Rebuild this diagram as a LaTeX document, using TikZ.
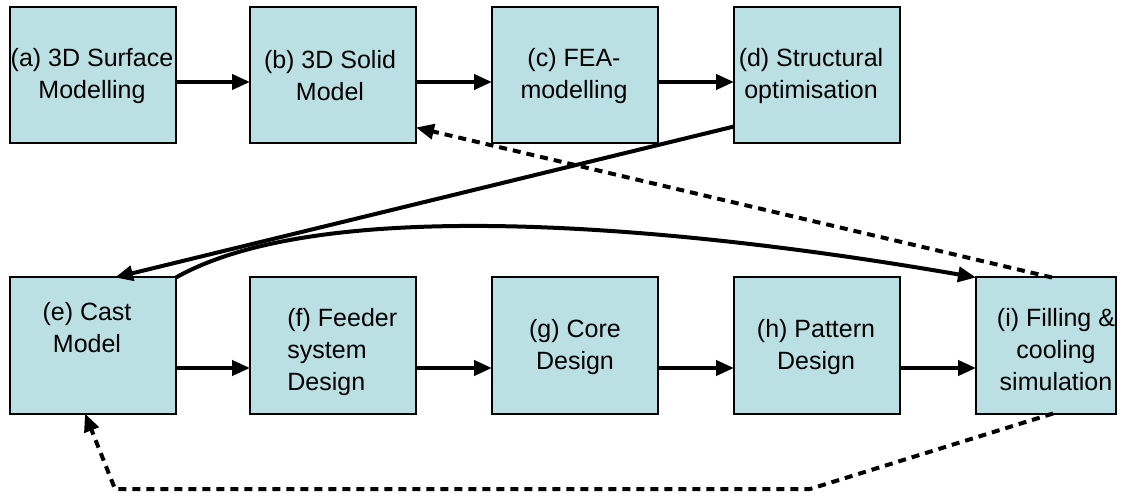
\documentclass[tikz,border=0pt]{standalone}
\usepackage{fontspec}
\setmainfont{Liberation Sans}
\usetikzlibrary{arrows.meta}
\definecolor{boxfill}{HTML}{BBE0E3}

\begin{document}
\begin{tikzpicture}[x=0.5pt, y=-0.5pt,
    stage/.style = {draw, line width=1pt, fill=boxfill, rectangle, inner sep=0pt, outer sep=0pt,
                    minimum width=83pt, minimum height=68pt},
    caption/.style = {align=center, inner sep=0pt, font=\fontsize{12.5}{16}\selectfont},
    flow/.style = {line width=2pt, -{Triangle[length=9pt,width=7.5pt]}},
    back/.style = {flow, dash pattern=on 4pt off 3pt}]

            \useasboundingbox (0,0) rectangle (1134,496);

            % design chain
            \node[stage] (a) at (93,75.5) {};
            \node[stage] (b) at (333,75.5) {};
            \node[stage] (c) at (575,75.5) {};
            \node[stage] (d) at (817,75.5) {};
            \node[caption] (ta) at (92,76) {(a) 3D Surface\\Modelling};
            \node[caption] (tb) at (330,76) {(b) 3D Solid\\Model};
            \node[caption] (tc) at (574,76) {(c) FEA-\\modelling};
            \node[caption] (td) at (811,76) {(d) Structural\\optimisation};

            % casting chain
            \node[stage] (e) at (93,345.5) {};
            \node[stage] (f) at (333,345.5) {};
            \node[stage] (g) at (575,345.5) {};
            \node[stage] (h) at (817,345.5) {};
            \node[stage, minimum width=70pt] (i) at (1046,345.5) {};
            \node[caption] (te) at (87,328) {(e) Cast\\Model};
            \node[caption, align=left, anchor=west] (tf) at (287,352) {(f) Feeder\\system\\Design};
            \node[caption] (tg) at (575,347) {(g) Core\\Design};
            \node[caption] (th) at (816,347) {(h) Pattern\\Design};
            \node[caption] (ti) at (1056,350) {(i) Filling \&\\cooling\\simulation};

            \draw[flow] ([yshift=-3.25pt]a.east) -- ([yshift=-3.25pt]b.west);
            \draw[flow] ([yshift=-3.25pt]b.east) -- ([yshift=-3.25pt]c.west);
            \draw[flow] ([yshift=-3.25pt]c.east) -- ([yshift=-3.25pt]d.west);

            \draw[flow] ([yshift=-11.25pt]e.east) -- ([yshift=-11.25pt]f.west);
            \draw[flow] ([yshift=-11.25pt]f.east) -- ([yshift=-11.25pt]g.west);
            \draw[flow] ([yshift=-11.25pt]g.east) -- ([yshift=-11.25pt]h.west);
            \draw[flow] ([yshift=-11.25pt]h.east) -- ([yshift=-11.25pt]i.west);

            % links between the two chains
            \draw[flow] ([yshift=8.5pt]d.south west) -- ([xshift=11pt]e.north);
            \draw[flow] (e.north east) .. controls +(154,-87) and +(-270,-47) .. (i.north west);
            \draw[back] ([xshift=3pt]i.north) -- ([yshift=8pt]b.south east);

            \coordinate (r1) at (810,489);
            \coordinate (r2) at (115,489);
            \draw[back] ([xshift=3.5pt]i.south) -- (r1) -- (r2) -- ([xshift=-4pt]e.south);
        \end{tikzpicture}
\end{document}
